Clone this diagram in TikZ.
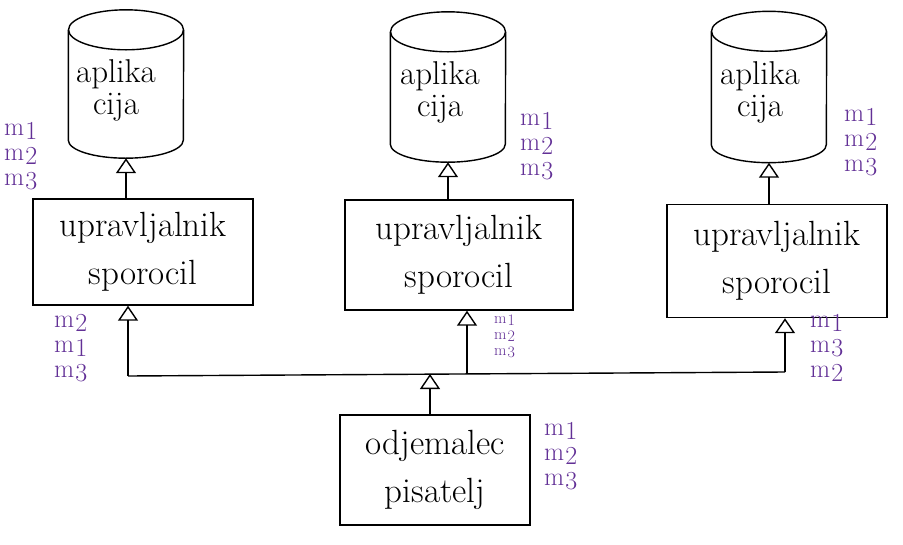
\documentclass[tikz,border=0pt]{standalone}
\usepackage{fontspec}
\usetikzlibrary{arrows.meta}
\definecolor{msgpurple}{RGB}{98,48,150}
\newcommand{\msgm}[1]{m\kern1pt\raisebox{-0.35ex}{#1}}
\tikzset{
    app/.style={inner sep=0pt, minimum width=115pt, minimum height=128pt},
    appline/.style={line width=1.4pt},
    apptext/.style={align=center, font=\fontsize{33}{32}\selectfont},
    manager/.style={draw, line width=1.4pt, minimum width=220pt, minimum height=106pt,
        align=center, font=\fontsize{35}{48}\selectfont},
    inherit/.style={line width=1.4pt, -{Triangle[open,length=15pt,width=20pt]}},
    msgs/.style={text=msgpurple, anchor=north west, align=left, inner sep=2pt,
        font=\fontsize{26}{25}\selectfont},
}
\begin{document}
\begin{tikzpicture}[x=1pt, y=-1pt]
    \useasboundingbox (0,0) rectangle (903,544);

    % aplikacije (od zgornje elipse do dna)
    \node[app] (app1) at (126, 94) {};
    \node[app, minimum height=130pt] (app2) at (448, 97) {};
    \node[app, minimum height=131pt] (app3) at (769, 97) {};
    \foreach \a in {app1, app2, app3} {
        \draw[appline] (\a.north) ellipse [x radius=57.5pt, y radius=20pt];
        \draw[appline] (\a.north west) -- ([yshift=18pt]\a.south west)
            arc [start angle=180, end angle=360, x radius=57.5pt, y radius=18pt]
            -- (\a.north east);
    }
    \node[apptext] (app1txt) at (116, 90) {aplika\\cija};
    \node[apptext] (app2txt) at (440, 92) {aplika\\cija};
    \node[apptext] (app3txt) at (760, 92) {aplika\\cija};

    % upravljalniki sporocil
    \node[manager] (mgr1) at (143, 252) {upravljalnik\\sporocil};
    \node[manager, minimum width=228pt, minimum height=110pt] (mgr2) at (459, 255) {upravljalnik\\sporocil};
    \node[manager, minimum height=113pt] (mgr3) at (777, 261) {upravljalnik\\sporocil};

    % odjemalec
    \node[manager, minimum width=190pt, minimum height=110pt] (client) at (435, 470) {odjemalec\\pisatelj};

    % skupno vodilo
    \coordinate (bus1) at (128, 376);
    \coordinate (bus2) at (467, 374);
    \coordinate (bus3) at (785, 372);
    \coordinate (busc) at (430, 374);
    \draw[line width=1.4pt] (bus1) -- (bus3);

    % povezave
    \draw[inherit] (mgr1.north -| app1.south) -- (app1.south);
    \draw[inherit] (mgr2.north -| app2.south) -- (app2.south);
    \draw[inherit] (mgr3.north -| app3.south) -- (app3.south);
    \draw[inherit] (bus1) -- (bus1 |- mgr1.south);
    \draw[inherit] (bus2) -- (bus2 |- mgr2.south);
    \draw[inherit] (bus3) -- (bus3 |- mgr3.south);
    \draw[inherit] (client.north -| busc) -- (busc);

    % sporocila
    \node[msgs] (msg1) at (2, 120) {\msgm{1}\\\msgm{2}\\\msgm{3}};
    \node[msgs] (msg2) at (52, 312) {\msgm{2}\\\msgm{1}\\\msgm{3}};
    \node[msgs] (msg3) at (518, 110) {\msgm{1}\\\msgm{2}\\\msgm{3}};
    \node[msgs, font=\fontsize{16}{16}\selectfont] (msg4) at (492, 313) {\msgm{1}\\\msgm{2}\\\msgm{3}};
    \node[msgs] (msg5) at (842, 106) {\msgm{1}\\\msgm{2}\\\msgm{3}};
    \node[msgs] (msg6) at (808, 312) {\msgm{1}\\\msgm{3}\\\msgm{2}};
    \node[msgs] (msg7) at (542, 420) {\msgm{1}\\\msgm{2}\\\msgm{3}};
\end{tikzpicture}
\end{document}
